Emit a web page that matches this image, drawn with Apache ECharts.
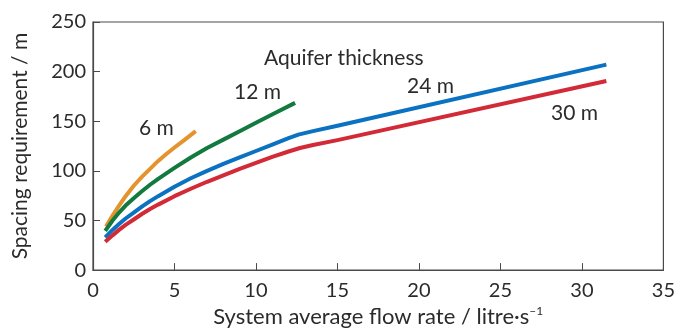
<!DOCTYPE html>
<html>
<head>
<meta charset="utf-8">
<script src="https://cdn.jsdelivr.net/npm/echarts@6/dist/echarts.min.js"></script>
<style>
  html, body { margin: 0; padding: 0; background: #fff; }
  #main { width: 678px; height: 333px; }
</style>
</head>
<body>
<div id="main"></div>
<script>
// 数据：x = 流量 (litre/s), y = 间距 (m)
const xTicks = [0, 5, 10, 15, 20, 25, 30, 35];
const yTicks = [0, 50, 100, 150, 200, 250];

const series6m = [
    [0.8, 44], [1.2, 55], [1.6, 65], [2.0, 74.5], [2.5, 85], [3.0, 94], [3.5, 102],
    [4.0, 110], [4.5, 117], [5.0, 123.5], [5.6, 131], [6.3, 140]
];
const series12m = [
    [0.75, 39.5], [1.2, 50], [1.6, 58], [2.0, 65], [2.5, 72.5], [3.0, 79.5], [3.5, 86],
    [4.0, 92], [5.0, 103], [6.0, 113.5], [7.0, 123], [8.0, 131.5], [9.0, 140],
    [10.0, 148.5], [11.2, 158.5], [12.4, 168.5]
];
const series24m = [
    [0.75, 33], [1.2, 40.5], [1.6, 46.5], [2.0, 52], [2.5, 58], [3.0, 64], [3.5, 69.5],
    [4.0, 74.5], [5.0, 84], [6.0, 92.5], [7.0, 100], [8.0, 107], [9.0, 113.5],
    [10.0, 120], [11.0, 126.5], [12.0, 133], [12.6, 136.5], [13.5, 140], [15.0, 145.5],
    [31.5, 207]
];
const series30m = [
    [0.75, 28.5], [1.2, 35], [1.6, 40.5], [2.0, 45.5], [2.5, 51], [3.0, 56.5], [3.5, 61.5],
    [4.0, 66], [5.0, 74.5], [6.0, 82], [7.0, 89], [8.0, 95.5], [9.0, 102],
    [10.0, 108], [11.0, 114], [12.0, 119.5], [12.7, 123], [13.5, 126], [15.0, 131],
    [31.5, 190.5]
];

const seriesNames = ['6 m', '12 m', '24 m', '30 m'];
const colorList = ['#e3942c', '#12793f', '#0b72c1', '#d22a36'];

const font = 'Lato, "Open Sans", sans-serif';
const textColor = '#2b2b2b';

const chartDom = document.getElementById('main');
const myChart = echarts.init(chartDom);

// 标注文字
const label = (text, x, y) => ({
    type: 'text', x: x, y: y,
    style: { text: text, font: '21px ' + font, fill: textColor, verticalAlign: 'middle' }
});

const getOption = () => {
    const dataList = [series6m, series12m, series24m, series30m];
    return {
        animation: false,
        grid: {
            left: 93, right: 9, top: 22, bottom: 56,
            show: true,
            borderColor: '#4a4a4a',
            borderWidth: 1.2
        },
        xAxis: {
            type: 'value',
            min: xTicks[0],
            max: xTicks[xTicks.length - 1],
            interval: 5,
            name: '{n|System average flow rate / litre·s}{s|–1}',
            nameLocation: 'middle',
            nameGap: 31,
            nameTextStyle: {
                rich: {
                    n: { fontFamily: font, fontSize: 22, color: textColor },
                    s: { fontFamily: font, fontSize: 12, color: textColor, verticalAlign: 'top', padding: [0, 0, 12, 0] }
                }
            },
            axisLine: { lineStyle: { color: '#4a4a4a', width: 1.2 } },
            axisTick: { inside: true, length: 7, lineStyle: { color: '#4a4a4a' } },
            axisLabel: { fontFamily: font, fontSize: 20, color: textColor, margin: 10 },
            splitLine: { show: false }
        },
        yAxis: {
            type: 'value',
            min: yTicks[0],
            max: yTicks[yTicks.length - 1],
            interval: 50,
            name: 'Spacing requirement / m',
            nameLocation: 'middle',
            nameGap: 62,
            nameTextStyle: { fontFamily: font, fontSize: 21, color: textColor },
            axisLine: { show: true, lineStyle: { color: '#4a4a4a', width: 1.2 } },
            axisTick: { show: true, inside: true, length: 7, lineStyle: { color: '#4a4a4a' } },
            axisLabel: { fontFamily: font, fontSize: 20, color: textColor, margin: 7 },
            splitLine: { show: false }
        },
        series: dataList.map((v, index) => {
            return {
                name: seriesNames[index],
                type: 'line',
                data: v,
                smooth: false,
                showSymbol: false,
                lineStyle: { color: colorList[index], width: 4, cap: 'butt', join: 'round' }
            };
        }),
        graphic: [
            label('Aquifer thickness', 264, 58),
            label('12 m', 234, 92),
            label('6 m', 139, 128),
            label('24 m', 407, 86),
            label('30 m', 551, 113)
        ]
    };
};

myChart.setOption(getOption());
</script>
</body>
</html>
